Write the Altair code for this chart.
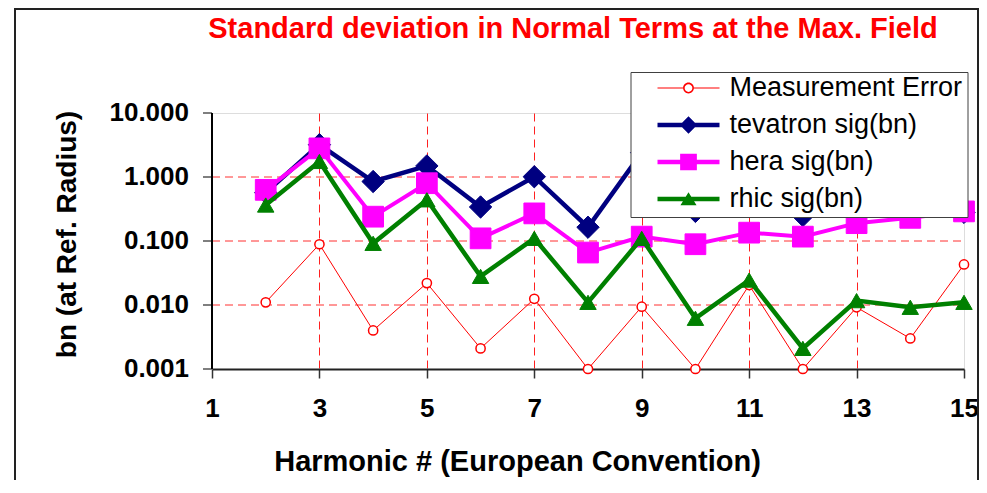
import altair as alt
import pandas as pd

# ---------------- data ----------------
harmonics = [2, 3, 4, 5, 6, 7, 8, 9, 10, 11, 12, 13, 14, 15]
series_names = ["Measurement Error", "tevatron sig(bn)", "hera sig(bn)", "rhic sig(bn)"]
measurement_error = [0.011, 0.089, 0.0040, 0.022, 0.0021, 0.0125, 0.0010, 0.0094,
                     0.0010, 0.0205, 0.0010, 0.0092, 0.0030, 0.043]
tevatron = [0.57, 3.2, 0.85, 1.49, 0.34, 1.01, 0.164, 2.4, 0.29, 0.80, 0.25, 0.34, 0.25, 0.28]
hera = [0.63, 2.8, 0.24, 0.80, 0.11, 0.27, 0.066, 0.117, 0.089, 0.135, 0.117, 0.19, 0.23, 0.29]
rhic = [0.365, 1.75, 0.092, 0.44, 0.028, 0.11, 0.011, 0.11, 0.0062, 0.0245, 0.0021,
        0.0117, 0.0092, 0.011]
y_ticks = [0.001, 0.01, 0.1, 1, 10]
x_ticks = [1, 3, 5, 7, 9, 11, 13, 15]

# ---------------- styles ----------------
line_colors = ["#ff0000", "#000080", "#ff00ff", "#008000"]
marker_fills = ["#ffffff", "#000080", "#ff00ff", "#008000"]
marker_shapes = ["circle", "diamond", "square", "triangle-up"]
marker_sizes = [85, 500, 430, 270]
marker_strokes = [1.5, 1, 1, 1]
line_widths = [1, 4.5, 4, 4.5]
FONT = "Liberation Sans"


def f(v):
    return f"{v:.4f}".rstrip("0").rstrip(".")


def bar(x0, x1, t):
    return f"M{f(x0)},{f(-t)}H{f(x1)}V{f(t)}H{f(x0)}Z"


def ring(ro, ri):
    return (f"M{f(ro)},0A{f(ro)},{f(ro)} 0 1,1 {f(-ro)},0A{f(ro)},{f(ro)} 0 1,1 {f(ro)},0Z"
            f"M{f(ri)},0A{f(ri)},{f(ri)} 0 1,0 {f(-ri)},0A{f(ri)},{f(ri)} 0 1,0 {f(ri)},0Z")


thin, thick = 0.018, 0.075
legend_paths = [
    bar(-1, -0.175, thin) + bar(0.175, 1, thin) + ring(0.175, 0.125),
    bar(-1, 1, thick) + "M0,-0.28L0.28,0L0,0.28L-0.28,0Z",
    bar(-1, 1, thick) + "M-0.27,-0.27H0.27V0.27H-0.27Z",
    bar(-1, 1, thick) + "M0,-0.22L0.26,0.2L-0.26,0.2Z",
]

rows = []
for name, vals in zip(series_names, [measurement_error, tevatron, hera, rhic]):
    for h, v in zip(harmonics, vals):
        rows.append({"harmonic": h, "value": v, "series": name})
df = pd.DataFrame(rows)

x_enc = alt.X(
    "harmonic:Q",
    scale=alt.Scale(domain=[1, 15], nice=False, zero=False),
    axis=alt.Axis(
        values=x_ticks, format="d", labelFlush=False, labelOverlap=False,
        labelFont=FONT, labelFontSize=26, labelFontWeight="bold", labelColor="black",
        labelPadding=17, tickSize=9, tickColor="#333333", tickWidth=1.5,
        domainColor="#222222", domainWidth=2,
        grid=True,
        gridColor=alt.condition("datum.value >= 15 || datum.value <= 1",
                                alt.value("transparent"), alt.value("#ff2020")),
        gridDash=[8, 5], gridWidth=1,
        title="Harmonic # (European Convention)", titleFont=FONT, titleFontSize=29,
        titleFontWeight="bold", titleColor="black", titleX=305, titleY=101,
        titleAlign="center", titleBaseline="alphabetic",
    ),
)
y_enc = alt.Y(
    "value:Q",
    scale=alt.Scale(type="log", domain=[0.001, 10], nice=False),
    axis=alt.Axis(
        values=y_ticks, format=".3f", labelFlush=False, labelOverlap=False, translate=0,
        labelFont=FONT, labelFontSize=26, labelFontWeight="bold", labelColor="black",
        labelPadding=14, tickSize=9, tickColor="#555555", tickWidth=1.5,
        domainColor="black", domainWidth=2,
        grid=True,
        gridColor=alt.condition("datum.value >= 10 || datum.value <= 0.001",
                                alt.value("transparent"), alt.value("#ff3030")),
        gridDash=[8, 5], gridWidth=1,
        title="bn (at Ref. Radius)", titleFont=FONT, titleFontSize=28,
        titleFontWeight="bold", titleColor="black", titleAngle=270,
        titleX=-136, titleY=121.5, titleAlign="center", titleBaseline="alphabetic",
    ),
)

base = alt.Chart(df).encode(x=x_enc, y=y_enc)

layers = []
for i, name in enumerate(series_names):
    sub = base.transform_filter(alt.datum.series == name)
    layers.append(sub.mark_line(color=line_colors[i], strokeWidth=line_widths[i]))
    layers.append(sub.mark_point(
        shape=marker_shapes[i], filled=True, fill=marker_fills[i], stroke=line_colors[i],
        strokeWidth=marker_strokes[i], size=marker_sizes[i], opacity=1))

legend = alt.Legend(
    title=None, orient="none", legendX=418.5, legendY=-41, direction="vertical",
    fillColor="white", strokeColor="#404040", padding=5,
    symbolSize=3844, symbolStrokeWidth=0, symbolOffset=22, symbolOpacity=1,
    labelOffset=10, labelFont=FONT, labelFontSize=27, labelColor="black", labelLimit=500,
    clipHeight=22, rowPadding=10,
)
legend_layer = base.transform_filter("false").mark_point(
    filled=True, opacity=1, size=3844, strokeWidth=0
).encode(
    color=alt.Color("series:N", scale=alt.Scale(domain=series_names, range=line_colors), legend=legend),
    shape=alt.Shape("series:N", scale=alt.Scale(domain=series_names, range=legend_paths), legend=legend),
)

frame = alt.Chart(pd.DataFrame({"k": [0]})).mark_rect(
    fill="transparent", stroke="#222222", strokeWidth=2
).encode(x=alt.value(-197), x2=alt.value(766), y=alt.value(-104), y2=alt.value(450))

chart = alt.layer(frame, *layers, legend_layer).properties(
    width=752, height=256,
    title=alt.TitleParams(
        text="Standard deviation in Normal Terms at the Max. Field",
        color="#ff0000", font=FONT, fontSize=29, fontWeight="bold",
        anchor="middle", dx=-15, dy=40,
    ),
    autosize=alt.AutoSizeParams(type="none"),
    padding={"left": 204, "top": 105, "right": 15, "bottom": 111},
).configure_view(stroke="#808080", strokeWidth=2).configure(background="white")

chart.save("out.html", embed_options={"renderer": "svg", "actions": False})
